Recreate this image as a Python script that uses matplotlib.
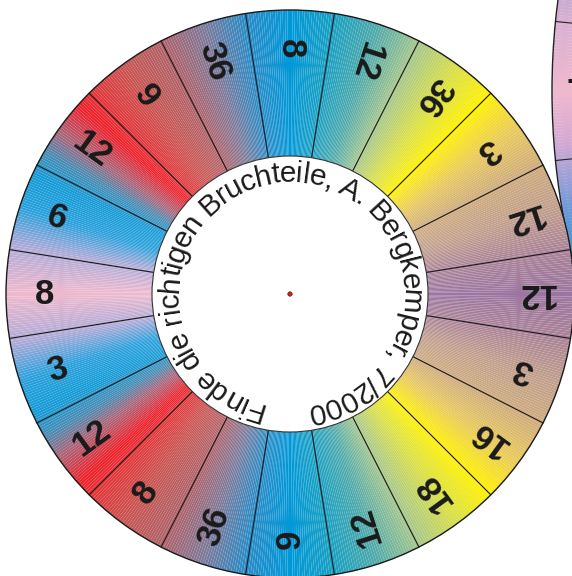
import numpy as np
import matplotlib
matplotlib.use('Agg')
import matplotlib.pyplot as plt
from matplotlib.patches import Wedge, Circle
from matplotlib.collections import PatchCollection
from matplotlib import font_manager as fm
from matplotlib.font_manager import FontProperties

# numbers on the ring, clockwise starting at the top
labels = ['8', '12', '36', '3', '12', '12', '3', '16', '18', '12',
          '9', '36', '8', '12', '3', '8', '6', '12', '9', '36']

title = 'Finde die richtigen Bruchteile, A. Bergkemper, 7/2000'

# colour gradient around the ring (degrees from east, mirrored below)
stop_angles = [0, 9, 18, 27, 36, 45, 54, 63, 72, 81, 90, 99, 108, 117,
               126, 135, 138, 145, 150, 155, 162, 170, 180]
stop_colors = [(156, 118, 160), (170, 130, 152), (192, 158, 140), (205, 170, 125),
               (232, 200, 90), (255, 240, 0), (215, 222, 70), (165, 198, 140),
               (80, 170, 170), (25, 160, 195), (0, 152, 216), (40, 140, 200),
               (125, 122, 155), (175, 98, 105), (200, 84, 80), (228, 50, 55),
               (240, 30, 40), (170, 100, 120), (70, 140, 180), (20, 155, 215),
               (40, 160, 220), (175, 170, 215), (240, 185, 205)]

# second (bigger) disc peeking in at the right edge
big_angles = [160, 165, 170, 174, 180, 184, 187, 191, 196, 200]
big_colors = [(140, 160, 215), (150, 160, 215), (180, 165, 210), (215, 175, 210),
              (240, 185, 205), (215, 170, 210), (160, 160, 215), (90, 150, 215),
              (60, 150, 215), (50, 150, 215)]
big_dividers = [174.3, 185.7]
big_label = '7'

W, H = 572, 576
cx, cy = 290, 282
r_in, r_out = 138, 284
r_lab = 245
bx, by, bR = 1252, 485, 700


def pick_font(names):
    for n in names:
        try:
            fm.findfont(FontProperties(family=n, weight='bold'), fallback_to_default=False)
            return n
        except ValueError:
            continue
    return 'DejaVu Sans'


num_font = pick_font(['Liberation Sans Narrow', 'Arial Narrow', 'Liberation Sans'])
text_font = pick_font(['Liberation Sans', 'Arial'])


def ring_color(a):
    a = a % 360
    if a > 180:
        a = 360 - a
    c = np.array(stop_colors) / 255
    return tuple(np.interp(a, stop_angles, c[:, i]) for i in range(3))


def big_color(a):
    c = np.array(big_colors) / 255
    return tuple(np.interp(a, big_angles, c[:, i]) for i in range(3))


fig = plt.figure(figsize=(W / 100, H / 100), dpi=100)
ax = fig.add_axes([0, 0, 1, 1])
ax.set_xlim(0, W)
ax.set_ylim(0, H)
ax.axis('off')

# big disc in the back
step = 0.25
th = np.arange(160, 200, step)
wed = [Wedge((bx, by), bR, t, t + step + 0.02) for t in th]
pc = PatchCollection(wed, facecolors=[big_color(t + step / 2) for t in th],
                     edgecolors='none', linewidths=0, zorder=1)
ax.add_collection(pc)
ax.add_patch(Circle((bx, by), bR, fill=False, ec='#222222', lw=1.0, zorder=2))
for a in big_dividers:
    t = np.radians(a)
    ax.plot([bx + (bR - 150) * np.cos(t), bx + bR * np.cos(t)],
            [by + (bR - 150) * np.sin(t), by + bR * np.sin(t)],
            color='#222222', lw=0.8, zorder=2)
ax.text(566, H - 77, big_label, fontsize=25, fontweight='bold', family=num_font,
        ha='left', va='top', color='#1a1a1a', zorder=2)

# white backing so the small wheel covers the big one
ax.add_patch(Circle((cx, cy), r_out, fc='white', ec='none', zorder=3))

# gradient ring, drawn from many thin wedges
step = 0.5
th = np.arange(0, 360, step)
wed = [Wedge((cx, cy), r_out, t, t + step, width=r_out - r_in) for t in th]
pc = PatchCollection(wed, facecolors=[ring_color(t + step / 2) for t in th],
                     edgecolors='none', linewidths=0, zorder=4)
ax.add_collection(pc)

# segment dividers
n = len(labels)
seg = 360 / n
for k in range(n):
    t = np.radians(90 + seg / 2 - k * seg)
    ax.plot([cx + r_in * np.cos(t), cx + r_out * np.cos(t)],
            [cy + r_in * np.sin(t), cy + r_out * np.sin(t)],
            color='#1a1a1a', lw=0.8, zorder=5)

ax.add_patch(Circle((cx, cy), r_out, fill=False, ec='#1a1a1a', lw=1.0, zorder=5))
ax.add_patch(Circle((cx, cy), r_in, fc='white', ec='#333333', lw=0.8, zorder=5))

# ring numbers, reading inwards
for k, lab in enumerate(labels):
    a = 90 - k * seg
    t = np.radians(a)
    ax.text(cx + r_lab * np.cos(t), cy + r_lab * np.sin(t), lab,
            rotation=a - 180, rotation_mode='anchor', ha='center', va='center',
            fontsize=25, fontweight='bold', family=num_font, color='#1a1a1a', zorder=6)

# curved caption inside the white disc
fs = 21.5
prop = FontProperties(family=text_font, size=fs)
font = fm.get_font(fm.findfont(prop))
font.set_size(fs, 100)
adv = [font.load_char(ord(ch)).linearHoriAdvance / 65536 for ch in title]
r_adv, r_base = 120, 112
start = np.radians(87.5) + sum(adv) / (2 * r_adv)
pos = 0
for ch, w in zip(title, adv):
    t = start - (pos + w / 2) / r_adv
    pos += w
    if ch == ' ':
        continue
    ax.text(cx + r_base * np.cos(t), cy + r_base * np.sin(t), ch,
            fontproperties=prop, rotation=np.degrees(t) - 90, rotation_mode='anchor',
            ha='center', va='baseline', color='#1a1a1a', zorder=6)

# pivot dot
ax.add_patch(Circle((cx, cy), 2.2, fc='#d62020', ec='#552222', lw=0.5, zorder=7))

fig.savefig('out.png', dpi=100)
